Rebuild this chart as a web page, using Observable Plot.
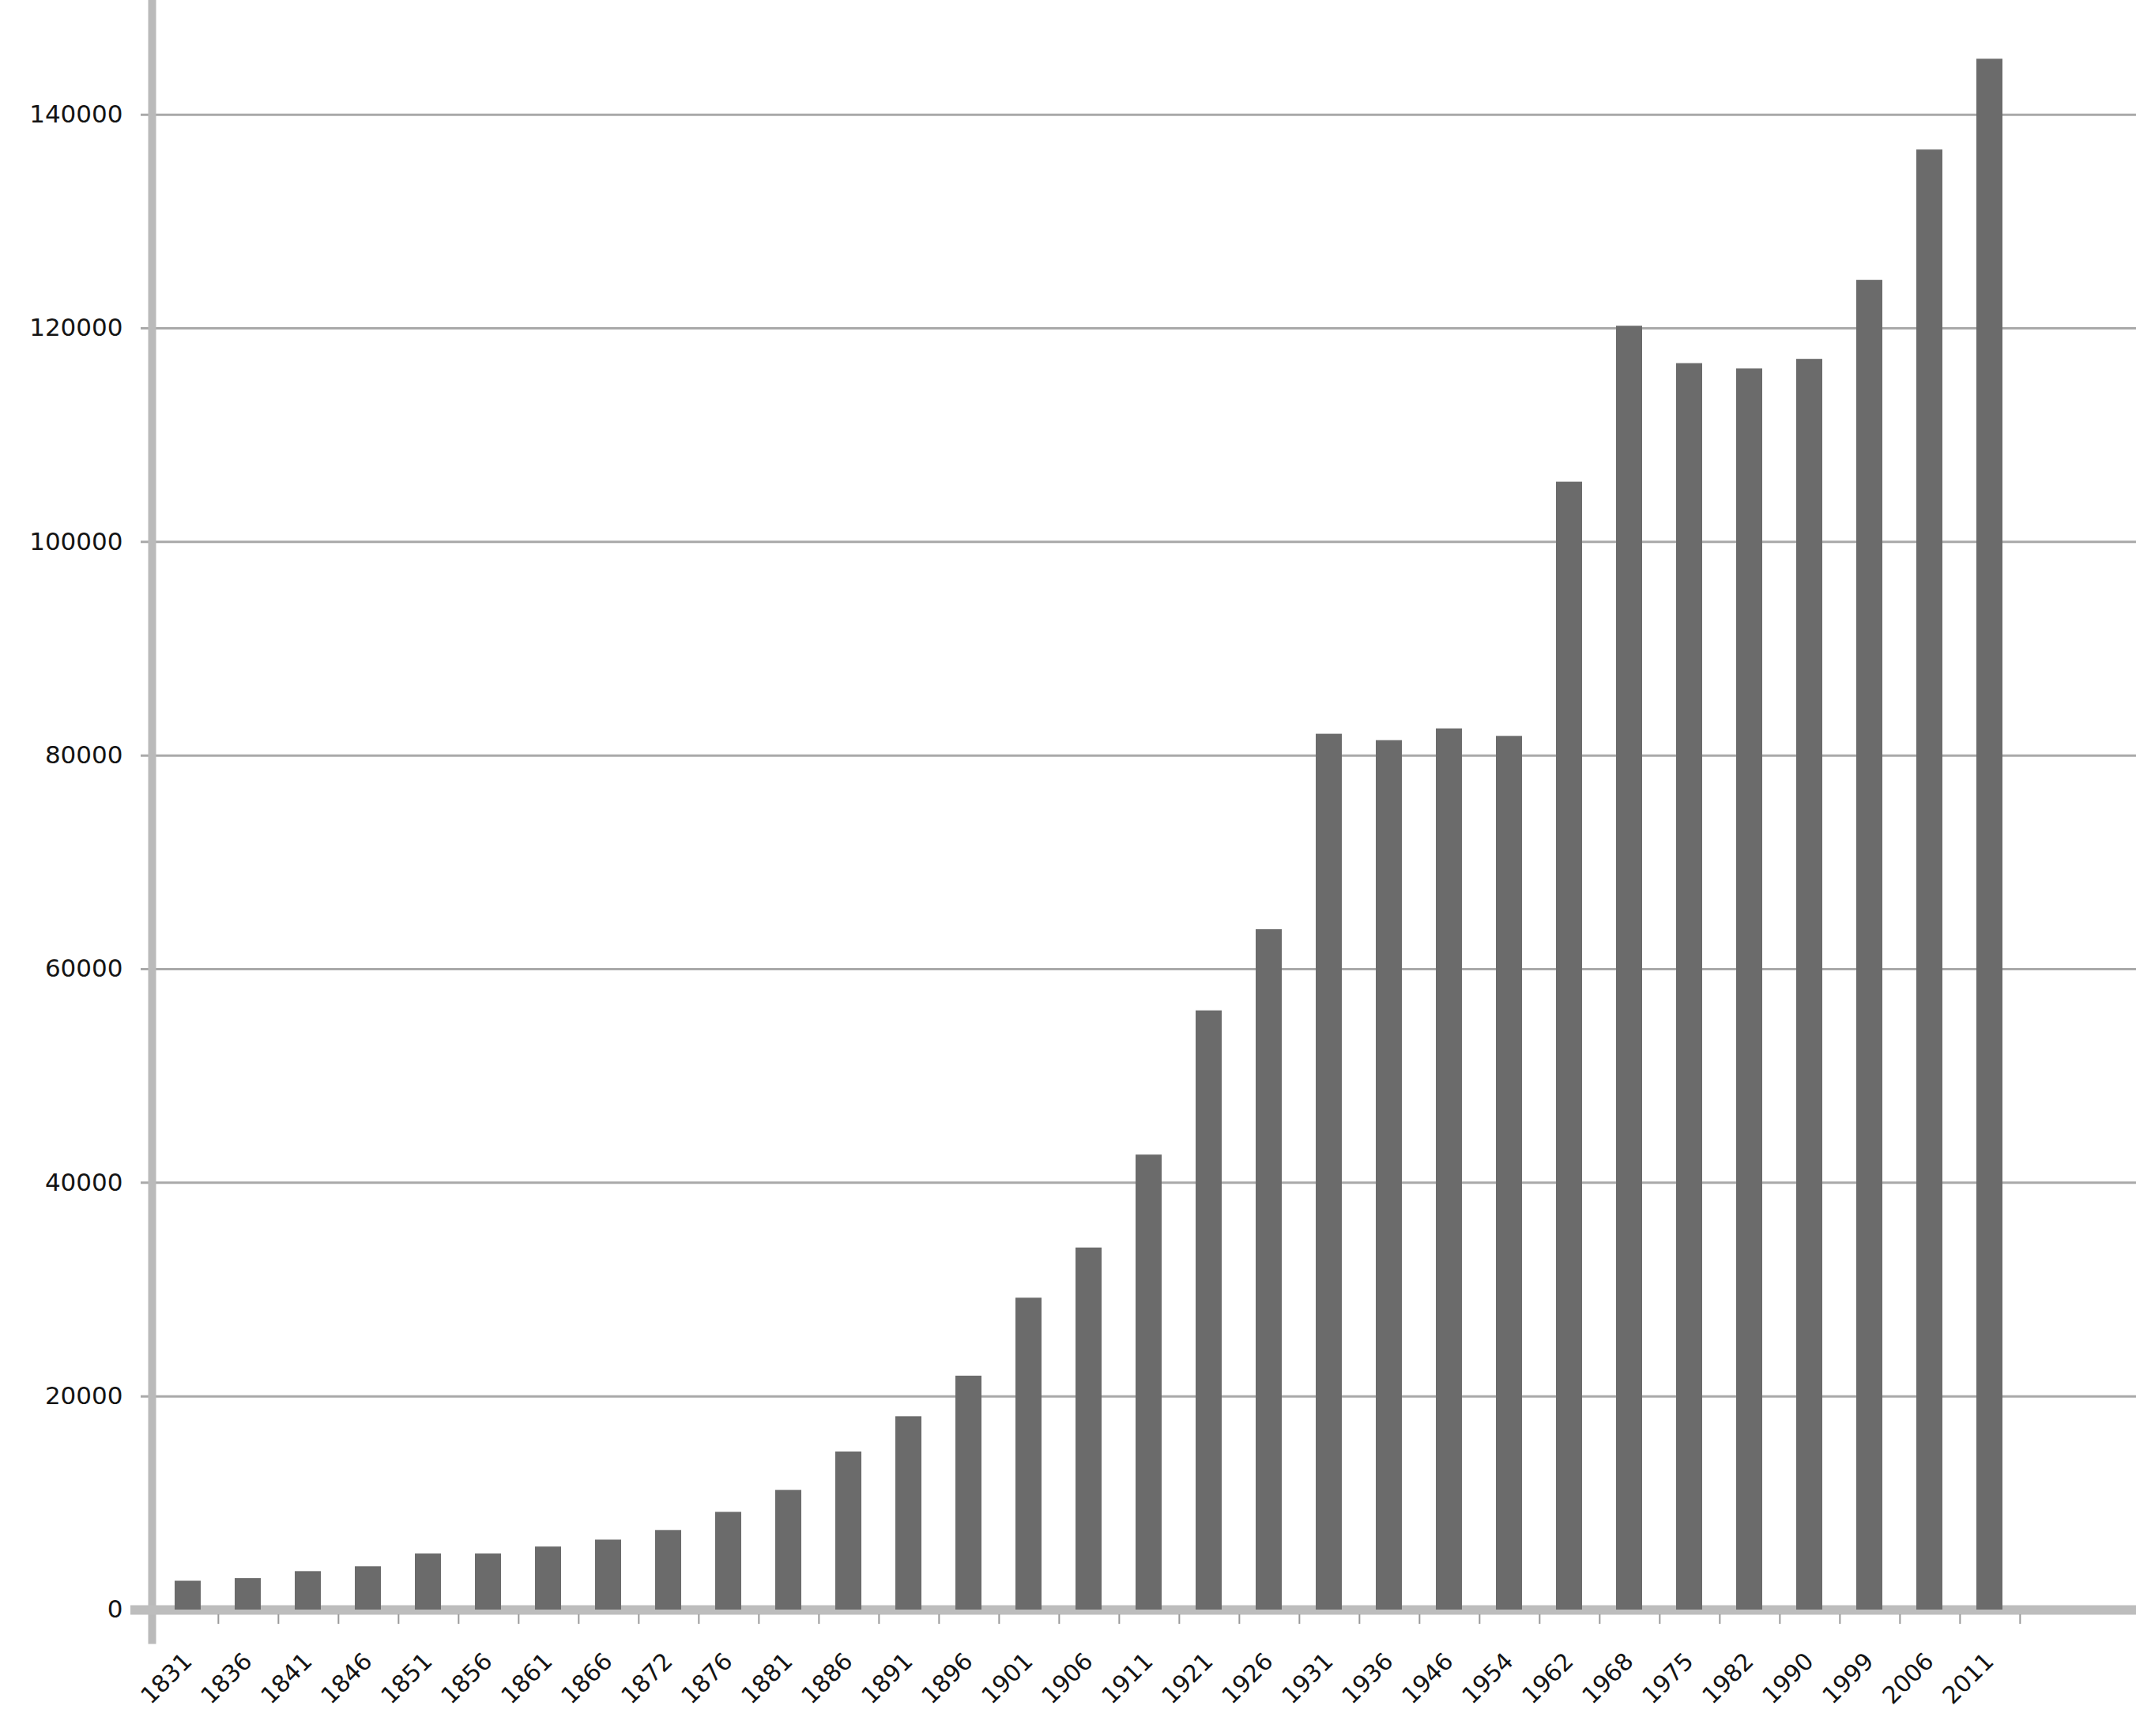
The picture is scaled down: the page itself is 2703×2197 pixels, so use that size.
<!DOCTYPE html>
<html>
<head>
<meta charset="utf-8">
<script src="https://cdn.jsdelivr.net/npm/d3@7"></script>
<script src="https://cdn.jsdelivr.net/npm/@observablehq/plot@0.6"></script>
<style>
html, body { margin: 0; padding: 0; background: #ffffff; }
#chart svg { display: block; }
</style>
</head>
<body>
<div id="chart"></div>
<script>
// Census years (category axis)
const years = ["1831","1836","1841","1846","1851","1856","1861","1866","1872","1876",
  "1881","1886","1891","1896","1901","1906","1911","1921","1926","1931",
  "1936","1946","1954","1962","1968","1975","1982","1990","1999","2006","2011"];

// Population values
const populations = [2700, 2950, 3600, 4050, 5250, 5250, 5900, 6550, 7450, 9150,
  11200, 14800, 18100, 21900, 29200, 33900, 42600, 56100, 63700, 82000,
  81400, 82500, 81800, 105600, 120200, 116700, 116200, 117100, 124500, 136700, 145200];

// Y-axis tick labels
const yTicks = [0, 20000, 40000, 60000, 80000, 100000, 120000, 140000];

const data = years.map((year, i) => ({year, value: populations[i]}));
const gridTicks = yTicks.filter(t => t > 0);

const W = 2703, H = 2197;
const zeroY = 2037;
const axisX0 = 192;
const bandStart = 188.6, bandEnd = 2566;
const step = (bandEnd - bandStart) / years.length;

const chart = Plot.plot({
  width: W,
  height: H,
  marginTop: 0,
  marginBottom: H - zeroY,
  marginLeft: axisX0,
  marginRight: 0,
  style: {background: "#ffffff", fontFamily: "'DejaVu Sans', Verdana, sans-serif", color: "#1c1c1c"},
  x: {type: "band", domain: years, range: [bandStart, bandEnd], paddingInner: 0.57, paddingOuter: 0.285, axis: null},
  y: {domain: [0, 150700], range: [zeroY, 0], axis: null},
  marks: [
    Plot.ruleY(gridTicks, {stroke: "#a9a9a9", strokeWidth: 3, insetLeft: -14}),
    Plot.frame({anchor: "left", stroke: "#bababa", strokeWidth: 10, insetBottom: -38}),
    Plot.ruleY([0], {stroke: "#bdbdbd", strokeWidth: 12, insetLeft: -27}),
    Plot.ruleX(years, {x: d => d, dx: step / 2, y1: 0, y2: 0, insetTop: 6, insetBottom: -18, stroke: "#9a9a9a", strokeWidth: 2}),
    Plot.barY(data, {x: "year", y: "value", fill: "#6b6b6b"}),
    Plot.axisY(yTicks, {anchor: "left", label: null, tickFormat: d => String(d), tickSize: 0, tickPadding: 37, fontSize: 31, fill: "#141414"}),
    Plot.axisX(years, {anchor: "bottom", label: null, tickSize: 0, tickPadding: 60, tickRotate: -45, fontSize: 30, fill: "#141414"})
  ]
});

document.getElementById("chart").appendChild(chart);
</script>
</body>
</html>
